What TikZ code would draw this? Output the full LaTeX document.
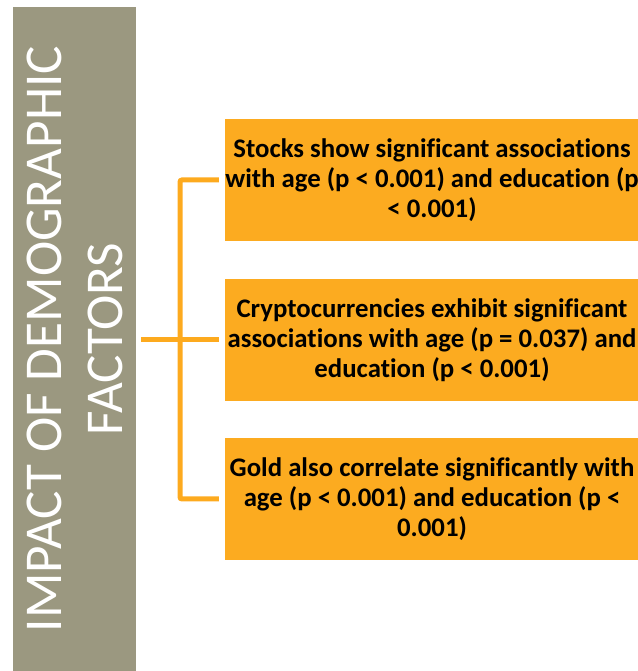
\documentclass[tikz,border=0pt]{standalone}
\usepackage{fontspec}
\setmainfont{Carlito}[Ligatures=NoCommon]
\usepackage{tikz}
\usetikzlibrary{positioning, calc}
\definecolor{barcolor}{RGB}{155,152,128}
\definecolor{findcolor}{RGB}{252,171,32}
\definecolor{linkcolor}{RGB}{253,170,30}

\begin{document}
\begin{tikzpicture}[x=1pt, y=1pt,
    finding/.style={rectangle, fill=findcolor, minimum width=414pt, minimum height=122pt,
        align=center, inner sep=0pt,
        font=\fontsize{26.8}{30}\selectfont\bfseries},
    link/.style={linkcolor, line width=5pt, rounded corners=2pt}]
    \useasboundingbox (0,0) rectangle (637,671);

    % Bandeau vertical (titre)
    \node[rectangle, fill=barcolor, minimum width=123pt, minimum height=664pt, inner sep=0pt] (bar) at (74.5,332) {};
    \node[rotate=90, align=center, text=white, font=\fontsize{53.2}{61}\selectfont] (title) at (bar.center) {IMPACT OF DEMOGRAPHIC\\FACTORS};

    % Constats
    \node[finding] (stocks) at (432,491) {Stocks show significant associations\\with age (p < 0.001) and education (p\\< 0.001)};
    \node[finding] (crypto) at (432,331) {Cryptocurrencies exhibit significant\\associations with age (p = 0.037) and\\education (p < 0.001)};
    \node[finding] (gold) at (432,172) {Gold also correlate significantly with\\age (p < 0.001) and education (p <\\0.001)};

    % Accolade
    \coordinate (spine) at (180,331);
    \draw[link] ([xshift=-6pt]stocks.west) -- (stocks.west -| spine) -- (gold.west -| spine) -- ([xshift=-6pt]gold.west);
    \draw[link] ([xshift=5pt]bar.east |- crypto.west) -- ([xshift=-6pt]crypto.west);
\end{tikzpicture}
\end{document}
